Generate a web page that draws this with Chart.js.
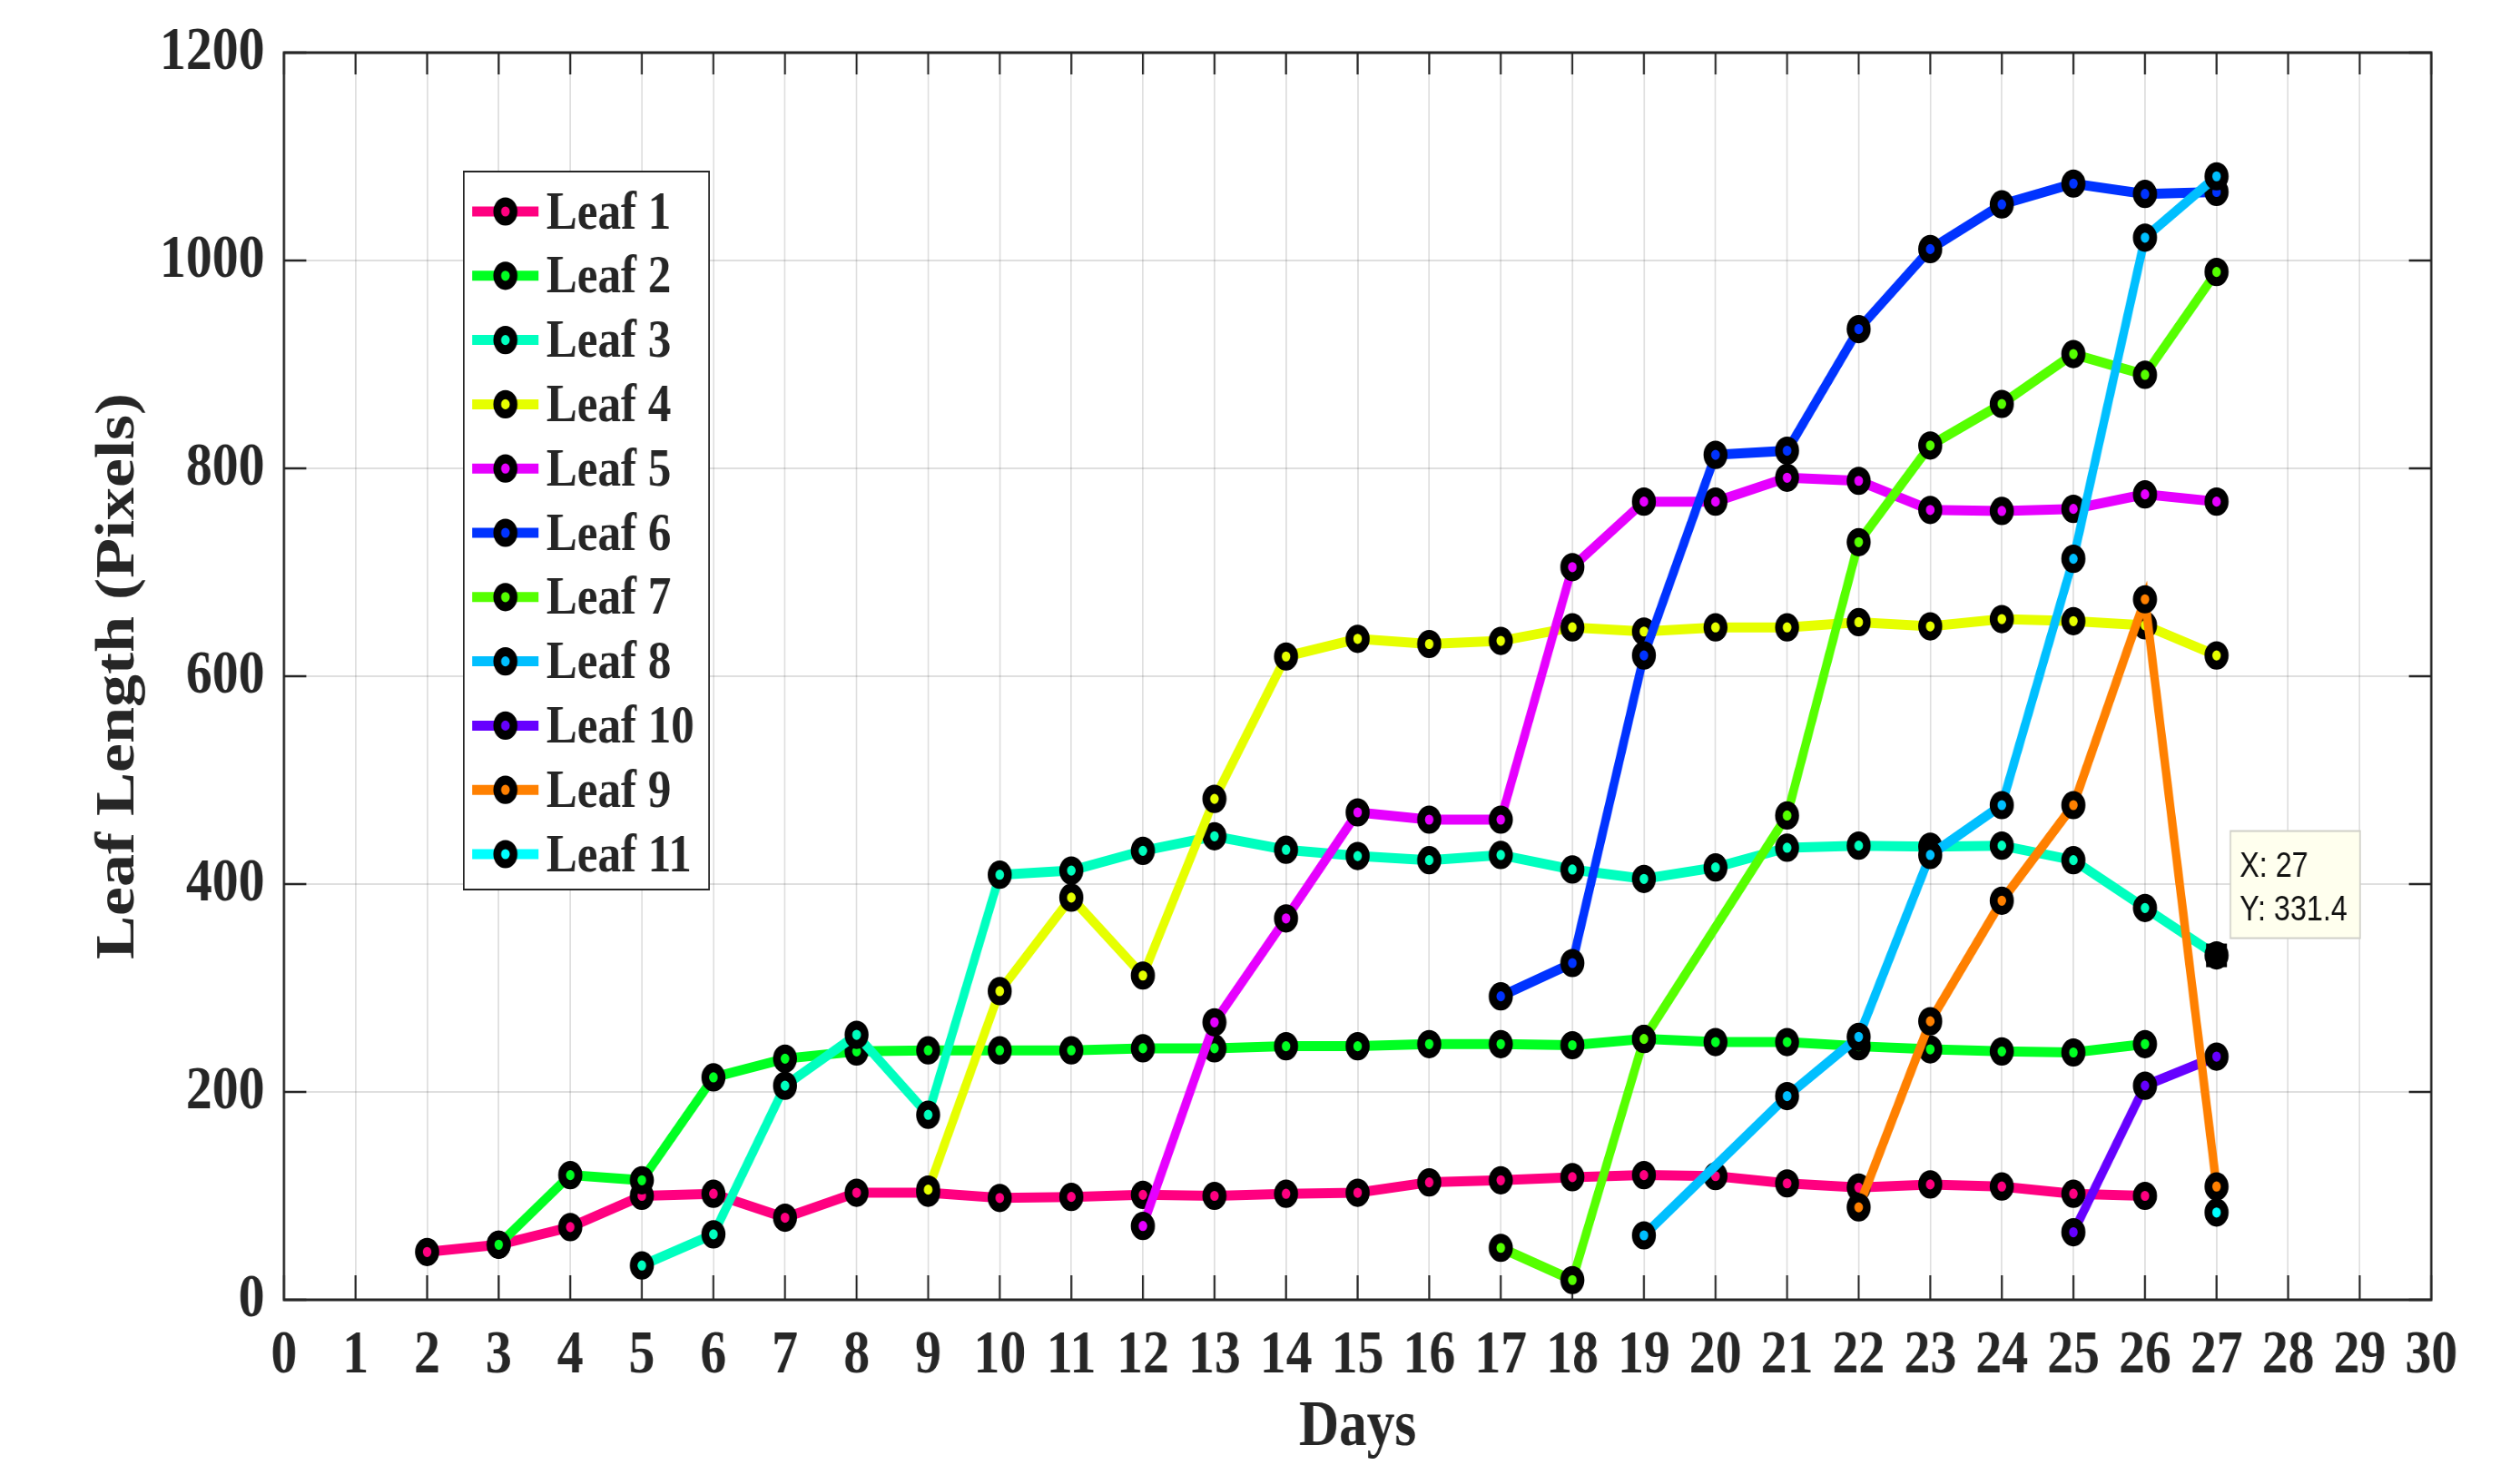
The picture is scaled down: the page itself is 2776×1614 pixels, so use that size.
<!DOCTYPE html>
<html>
<head>
<meta charset="utf-8">
<title>Leaf Length</title>
<script src="https://cdn.jsdelivr.net/npm/chart.js@4.4.1/dist/chart.umd.min.js"></script>
<style>
  html, body { margin: 0; padding: 0; background: #fff; overflow: hidden; }
</style>
</head>
<body>
<!-- drawn 3266 wide, shown 2776 wide: the figure is squeezed horizontally -->
<canvas id="chart" width="3266" height="1614" style="display:block;width:2776px;height:1614px"></canvas>
<script>
// ── Data (leaf length in pixels, one value per day from the start day) ───────

const xTicks = [0, 1, 2, 3, 4, 5, 6, 7, 8, 9, 10, 11, 12, 13, 14, 15, 16, 17, 18, 19, 20,
                21, 22, 23, 24, 25, 26, 27, 28, 29, 30]
const yTicks = [0, 200, 400, 600, 800, 1000, 1200]

const leafNames = ['Leaf 1', 'Leaf 2', 'Leaf 3', 'Leaf 4', 'Leaf 5', 'Leaf 6',
                   'Leaf 7', 'Leaf 8', 'Leaf 10', 'Leaf 9', 'Leaf 11']
const startDays = [2, 3, 5, 9, 12, 17, 17, 19, 25, 22, 27]

const leaf1  = [46, 53, 70, 100, 102, 79, 103, 103, 98, 99, 101, 100, 102, 103, 113, 115,
                118, 120, 119, 112, 108, 111, 109, 102, 100]
const leaf2  = [53, 120, 115, 214, 232, 239, 240, 240, 240, 242, 242, 244, 244, 246, 246,
                245, 251, 248, 248, 244, 241, 239, 238, 246]
const leaf3  = [33, 63, 206, 255, 178, 409, 413, 432, 446, 433, 427, 423, 428, 414, 405,
                416, 435, 437, 436, 437, 423, 377, 331.4]
const leaf4  = [106, 297, 387, 312, 482, 619, 636, 631, 634, 647, 643, 647, 647, 652, 648,
                655, 653, 649, 620]
const leaf5  = [71, 267, 367, 469, 462, 462, 705, 768, 768, 791, 788, 760, 759, 761, 775, 768]
const leaf6  = [292, 324, 620, 813, 817, 934, 1011, 1054, 1074, 1064, 1066]
const leaf7  = [50, 19, 251, null, 466, 729, 822, 862, 910, 890, 989]
const leaf8  = [62, null, 196, 253, 428, 476, 713, 1022, 1081]
const leaf10 = [65, 206, 234]
const leaf9  = [89, 268, 384, 476, 674, 109]
const leaf11 = [84]

const leafValues = [leaf1, leaf2, leaf3, leaf4, leaf5, leaf6, leaf7, leaf8, leaf10, leaf9, leaf11]
const leafColors = ['#ff0080', '#00ff22', '#00ffbf', '#e6ff00', '#e600ff', '#0033ff',
                    '#55ff00', '#00bfff', '#6600ff', '#ff8000', '#00ffff']

// data tip pinned on Leaf 3, day 27
const datatip = { x: 27, y: 331.4 }

// ── Style ─────────────────────────────────────────────────────────────────────

const AXIS_COLOR = '#262626'
const SERIF = "'Liberation Serif', 'Times New Roman', serif"
const LINE_W = 11
const MARK_R = 10.6
const MARK_W = 10

Chart.defaults.font.family = SERIF
Chart.defaults.font.weight = 'bold'
Chart.defaults.color = AXIS_COLOR

// ── Plugins ───────────────────────────────────────────────────────────────────

// box + inward tick marks, MATLAB style (drawn under the data)
const axesFrame = {
  id: 'axesFrame',
  beforeDatasetsDraw(chart) {
    const { ctx, chartArea: a, scales: { x, y } } = chart
    ctx.save()
    ctx.strokeStyle = AXIS_COLOR
    ctx.lineWidth = 2.5
    ctx.beginPath()
    for (const t of xTicks) {
      const px = x.getPixelForValue(t)
      ctx.moveTo(px, a.bottom); ctx.lineTo(px, a.bottom - 27)
      ctx.moveTo(px, a.top);    ctx.lineTo(px, a.top + 24)
    }
    for (const t of yTicks) {
      const py = y.getPixelForValue(t)
      ctx.moveTo(a.left, py);  ctx.lineTo(a.left + 29, py)
      ctx.moveTo(a.right, py); ctx.lineTo(a.right - 29, py)
    }
    ctx.stroke()
    ctx.lineWidth = 3
    ctx.strokeRect(a.left, a.top, a.right - a.left, a.bottom - a.top)
    ctx.restore()
  },
}

// legend box inside the axes, line + marker samples
const boxLegend = {
  id: 'boxLegend',
  afterDatasetsDraw(chart) {
    const { ctx, chartArea: a } = chart
    const left = a.left + 233, top = a.top + 131
    const w = 318, h = 791, row = 70.8
    ctx.save()
    ctx.fillStyle = '#fff'
    ctx.fillRect(left, top, w, h)
    ctx.strokeStyle = AXIS_COLOR
    ctx.lineWidth = 2
    ctx.strokeRect(left, top, w, h)
    chart.data.datasets.forEach((ds, i) => {
      const cy = top + 44 + i * row
      ctx.strokeStyle = ds.borderColor
      ctx.lineWidth = LINE_W
      ctx.beginPath()
      ctx.moveTo(left + 11, cy); ctx.lineTo(left + 97, cy)
      ctx.stroke()
      ctx.beginPath()
      ctx.arc(left + 54, cy, MARK_R, 0, Math.PI * 2)
      ctx.fillStyle = ds.borderColor
      ctx.fill()
      ctx.lineWidth = MARK_W
      ctx.strokeStyle = '#000'
      ctx.stroke()
      ctx.fillStyle = AXIS_COLOR
      ctx.font = `bold 60px ${SERIF}`
      ctx.textAlign = 'left'
      ctx.textBaseline = 'middle'
      ctx.fillText(ds.label, left + 107, cy + 3)
    })
    ctx.restore()
  },
}

// data tip: black square marker and the yellow X/Y box
const dataTip = {
  id: 'dataTip',
  afterDraw(chart) {
    const { ctx, scales: { x, y } } = chart
    const px = x.getPixelForValue(datatip.x)
    const py = y.getPixelForValue(datatip.y)
    ctx.save()
    ctx.fillStyle = '#000'
    ctx.fillRect(px - 13.5, py - 13, 27, 26)
    const bx = px + 18, by = py - 137
    ctx.fillStyle = '#ffffee'
    ctx.fillRect(bx, by, 168, 118)
    ctx.strokeStyle = '#d0d0c8'
    ctx.lineWidth = 2
    ctx.strokeRect(bx, by, 168, 118)
    ctx.fillStyle = '#111'
    ctx.font = "38px 'Liberation Sans', Arial, sans-serif"
    ctx.textAlign = 'left'
    ctx.textBaseline = 'alphabetic'
    ctx.fillText(`X: ${datatip.x}`, bx + 12, by + 50)
    ctx.fillText(`Y: ${datatip.y}`, bx + 12, by + 98)
    ctx.restore()
  },
}

// ── Chart ─────────────────────────────────────────────────────────────────────

function _points(start, values) {
  return values.map((v, i) => ({ x: start + i, y: v }))
}

const datasets = leafNames.map((name, i) => ({
  label: name,
  data: _points(startDays[i], leafValues[i]),
  borderColor: leafColors[i],
  backgroundColor: leafColors[i],
  borderWidth: LINE_W,
  pointRadius: MARK_R,
  pointHoverRadius: MARK_R,
  pointBorderWidth: MARK_W,
  pointBorderColor: '#000',
  pointBackgroundColor: leafColors[i],
  spanGaps: true,
  tension: 0,
  order: -i, // later leaves drawn on top
}))

new Chart(document.getElementById('chart'), {
  type: 'line',
  data: { datasets },
  options: {
    responsive: false,
    devicePixelRatio: 1,
    animation: false,
    events: [],
    layout: { padding: { top: 58, right: 115, left: 0, bottom: 0 } },
    plugins: {
      legend: { display: false },
      tooltip: { enabled: false },
    },
    scales: {
      x: {
        type: 'linear',
        min: 0,
        max: 30,
        afterBuildTicks: s => { s.ticks = xTicks.map(v => ({ value: v })) },
        afterFit: s => { s.height = 182 },
        ticks: { autoSkip: false, maxRotation: 0, padding: 22, font: { size: 68 }, callback: v => String(v) },
        grid: { color: 'rgba(38,38,38,0.15)', lineWidth: 2, drawTicks: false },
        border: { display: false },
        title: { display: true, text: 'Days', font: { size: 72 }, padding: { top: 0, bottom: -3 } },
      },
      y: {
        type: 'linear',
        min: 0,
        max: 1200,
        afterBuildTicks: s => { s.ticks = yTicks.map(v => ({ value: v })) },
        // fixed width, and no extra room above/below for the end labels
        afterFit: s => { s.width = 368; s.paddingTop = 0; s.paddingBottom = 0 },
        ticks: { padding: 25, font: { size: 68 }, callback: v => String(v) },
        grid: { color: 'rgba(38,38,38,0.15)', lineWidth: 2, drawTicks: false },
        border: { display: false },
        title: { display: true, text: 'Leaf Length (Pixels)', font: { size: 72 }, padding: { top: 111, bottom: 0 } },
      },
    },
  },
  plugins: [axesFrame, boxLegend, dataTip],
})
</script>
</body>
</html>
